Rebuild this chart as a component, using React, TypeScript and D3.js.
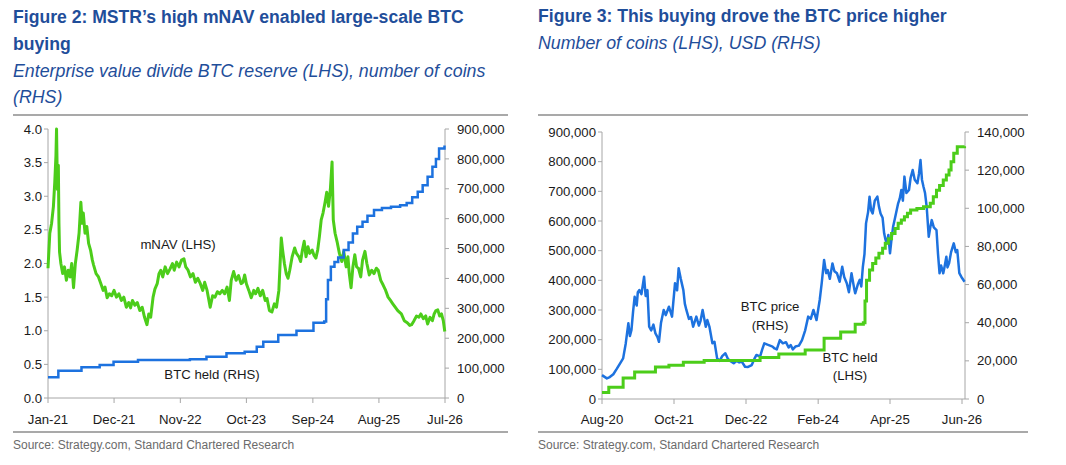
import React from "react";
import * as d3 from "d3";

// ---------- Figure 2 data (months since Jan-2021) ----------
const fig2Start = new Date(2021, 0, 1);
const fig2XTickLabels = ["Jan-21", "Dec-21", "Nov-22", "Oct-23", "Sep-24", "Aug-25", "Jul-26"];
const fig2LeftTicks = [0, 0.5, 1, 1.5, 2, 2.5, 3, 3.5, 4];
const fig2RightTicks = [0, 100000, 200000, 300000, 400000, 500000, 600000, 700000, 800000, 900000];

const mnav: [number, number][] = [
  [0.0, 1.93], [0.3, 2.45], [0.6, 2.6], [0.9, 2.85], [1.1, 3.2], [1.3, 3.6], [1.4, 4.0], [1.55, 3.1],
  [1.7, 3.46], [1.8, 2.6], [1.9, 2.17], [2.2, 2.0], [2.5, 1.85], [2.8, 1.95], [3.1, 1.75], [3.4, 1.9],
  [3.7, 1.8], [4.0, 2.0], [4.3, 1.64], [4.6, 2.0], [4.9, 2.2], [5.2, 2.45], [5.5, 2.91], [5.7, 2.6],
  [5.9, 2.75], [6.2, 2.45], [6.5, 2.55], [6.8, 2.3], [7.1, 2.2], [7.4, 2.05], [7.6, 1.98], [8.0, 1.85],
  [8.4, 1.8], [8.8, 1.7], [9.2, 1.6], [9.5, 1.65], [9.85, 1.49], [10.2, 1.55], [10.6, 1.52], [11.0, 1.6],
  [11.4, 1.5], [11.8, 1.55], [12.2, 1.45], [12.6, 1.5], [13.0, 1.35], [13.4, 1.42], [13.7, 1.34], [14.1, 1.45],
  [14.5, 1.38], [14.9, 1.42], [15.3, 1.3], [15.7, 1.35], [16.1, 1.2], [16.5, 1.09], [16.8, 1.25], [17.1, 1.2],
  [17.5, 1.5], [17.8, 1.62], [18.2, 1.7], [18.5, 1.85], [18.8, 1.9], [19.1, 1.8], [19.5, 1.95], [19.9, 1.85],
  [20.3, 1.92], [20.7, 2.0], [21.0, 1.9], [21.4, 2.02], [21.8, 1.95], [22.2, 2.05], [22.6, 2.07], [22.9, 1.95],
  [23.3, 1.9], [23.7, 1.8], [24.1, 1.85], [24.5, 1.72], [24.9, 1.78], [25.3, 1.7], [25.7, 1.6], [26.1, 1.72],
  [26.5, 1.6], [27.0, 1.35], [27.4, 1.52], [27.8, 1.5], [28.2, 1.58], [28.6, 1.55], [29.0, 1.6], [29.4, 1.55],
  [29.8, 1.65], [30.2, 1.45], [30.5, 1.75], [30.9, 1.88], [31.3, 1.75], [31.7, 1.82], [32.1, 1.7], [32.4, 1.72],
  [32.7, 1.83], [33.0, 1.7], [33.4, 1.6], [33.8, 1.49], [34.2, 1.6], [34.5, 1.55], [34.9, 1.63], [35.3, 1.52],
  [35.7, 1.6], [36.1, 1.45], [36.4, 1.48], [36.8, 1.3], [37.2, 1.28], [37.6, 1.4], [38.0, 1.35], [38.4, 1.6],
  [38.8, 2.38], [39.0, 2.2], [39.3, 2.0], [39.6, 1.85], [39.9, 1.78], [40.2, 1.9], [40.6, 2.1], [41.0, 2.23],
  [41.3, 2.15], [41.7, 2.1], [42.0, 2.03], [42.3, 2.2], [42.6, 2.33], [42.9, 2.1], [43.2, 2.25], [43.5, 2.15],
  [43.9, 2.2], [44.2, 2.12], [44.5, 2.08], [44.8, 2.2], [45.1, 2.4], [45.4, 2.65], [45.7, 2.75], [46.0, 2.9],
  [46.3, 3.06], [46.6, 2.85], [46.9, 3.1], [47.2, 3.51], [47.4, 2.65], [47.7, 2.45], [48.0, 2.33], [48.4, 2.15],
  [48.8, 2.03], [49.1, 2.18], [49.5, 1.95], [49.8, 2.1], [50.1, 1.85], [50.4, 1.64], [50.7, 1.95], [51.0, 2.13],
  [51.3, 1.95], [51.6, 1.93], [52.0, 1.8], [52.3, 2.05], [52.7, 2.18], [53.0, 2.0], [53.4, 1.83], [53.8, 1.9],
  [54.2, 1.85], [54.6, 1.93], [54.9, 1.9], [55.3, 1.75], [55.7, 1.68], [56.1, 1.6], [56.5, 1.5], [56.9, 1.45],
  [57.3, 1.4], [57.7, 1.35], [58.1, 1.3], [58.7, 1.25], [59.2, 1.15], [59.7, 1.12], [60.1, 1.08], [60.4, 1.09],
  [60.8, 1.15], [61.2, 1.22], [61.6, 1.2], [62.0, 1.25], [62.4, 1.18], [62.8, 1.22], [63.1, 1.1], [63.5, 1.2],
  [63.9, 1.15], [64.2, 1.25], [64.5, 1.3], [64.8, 1.31], [65.1, 1.22], [65.4, 1.25], [65.7, 1.15], [65.95, 0.99],
];

const fig2BtcHeld: [number, number][] = [
  [0, 69300], [1.7, 91300], [5.6, 102700], [8.6, 110400], [10.9, 121500], [15.0, 127000], [23.6, 130000],
  [26.4, 138000], [29.7, 149500], [32.7, 155000], [34.7, 171600], [35.8, 188000], [38.3, 210800],
  [41.3, 225000], [44.1, 252000], [45.9, 256000], [46.2, 330000], [46.5, 395000], [47.0, 439000],
  [47.6, 455000], [48.2, 470000], [49.1, 495000], [49.9, 520000], [50.7, 550000], [51.4, 573000],
  [52.3, 590000], [53.1, 610000], [54.2, 629000], [55.5, 636000], [57.0, 640000], [58.5, 645000],
  [59.6, 652000], [60.5, 672000], [61.4, 690000], [62.3, 712000], [63.1, 740000], [63.9, 774000],
  [64.5, 800000], [65.0, 835000], [65.9, 845000],
];

// ---------- Figure 3 data (months since Aug-2020) ----------
const fig3Start = new Date(2020, 7, 1);
const fig3XTickLabels = ["Aug-20", "Oct-21", "Dec-22", "Feb-24", "Apr-25", "Jun-26"];
const fig3LeftTicks = [0, 100000, 200000, 300000, 400000, 500000, 600000, 700000, 800000, 900000];
const fig3RightTicks = [0, 20000, 40000, 60000, 80000, 100000, 120000, 140000];

const fig3BtcHeld: [number, number][] = [
  [0, 21500], [1.3, 40000], [4.1, 70500], [6.3, 91000], [10.4, 108000], [13.0, 114000], [15.8, 124000],
  [19.9, 129500], [30.7, 140000], [34.4, 152000], [39.5, 165000], [43.2, 205000], [46.4, 226000],
  [49.2, 252000], [50.8, 257000], [51.1, 330000], [51.4, 400000], [52.0, 435000], [52.6, 457000],
  [53.2, 475000], [53.8, 491000], [54.5, 508000], [55.1, 525000], [55.7, 540000], [56.3, 558000],
  [57.0, 575000], [57.6, 592000], [58.2, 603000], [58.8, 614000], [59.4, 626000], [60.0, 637000],
  [61.2, 642000], [62.5, 648000], [63.8, 660000], [64.4, 682000], [65.0, 704000], [65.6, 720000],
  [66.3, 738000], [66.9, 755000], [67.5, 772000], [67.9, 800000], [68.4, 828000], [69.1, 850000],
  [70.5, 852000],
];

const btcPrice: [number, number][] = [
  [0, 12500], [0.5, 11600], [0.95, 10800], [1.5, 11500], [2.2, 13000], [2.8, 15500], [3.5, 18700],
  [4.1, 21300], [4.6, 29000], [5.1, 39700], [5.4, 33000], [5.7, 36200], [6.0, 46000], [6.3, 53600],
  [6.7, 49000], [7.0, 56000], [7.3, 57100], [7.7, 55000], [8.2, 64100], [8.5, 54000], [8.85, 57100],
  [9.2, 37900], [9.6, 36000], [10.0, 39000], [10.4, 34400], [10.8, 32500], [11.1, 30000], [11.5, 40000],
  [12.0, 46700], [12.4, 44000], [13.0, 48400], [13.6, 43200], [14.2, 60700], [14.6, 57000], [14.9, 68500],
  [15.3, 63000], [15.8, 57100], [16.1, 50000], [16.4, 46700], [16.9, 42000], [17.3, 43000], [17.7, 37900],
  [18.3, 43200], [18.8, 38500], [19.2, 41000], [19.6, 46700], [20.2, 37900], [20.5, 41400], [20.9, 38000],
  [21.5, 29200], [21.9, 30000], [22.4, 21300], [22.9, 20000], [23.4, 22500], [24.0, 24000], [24.5, 21000],
  [25.0, 19800], [25.6, 18700], [26.2, 20000], [26.7, 19200], [27.2, 19500], [27.8, 16900], [28.4, 16800],
  [29.1, 17800], [29.6, 21000], [30.0, 23100], [30.7, 22200], [31.2, 26000], [31.6, 29200], [32.2, 28500],
  [32.7, 28000], [33.2, 27500], [33.6, 26500], [34.0, 26000], [34.6, 30900], [35.2, 29200], [35.8, 29800],
  [36.3, 27000], [36.7, 28300], [37.1, 26000], [37.6, 27500], [38.3, 28000], [38.9, 30900], [39.5, 36000],
  [40.1, 43200], [40.6, 42000], [41.1, 46700], [41.7, 41400], [42.3, 51900], [42.7, 61000], [43.2, 72900],
  [43.6, 66000], [43.9, 67600], [44.3, 63000], [44.8, 71100], [45.2, 67000], [45.7, 65900], [46.2, 61500],
  [46.7, 69300], [47.1, 64000], [47.6, 60700], [48.0, 56000], [48.5, 65900], [49.0, 58000], [49.2, 55400],
  [49.7, 60000], [50.1, 62500], [50.4, 59000], [50.7, 69300], [51.0, 76000], [51.3, 92100], [51.7, 98000],
  [52.0, 106100], [52.3, 99000], [52.6, 97300], [53.0, 104000], [53.5, 106100], [53.8, 101000],
  [54.1, 97300], [54.5, 95000], [54.8, 86900], [55.1, 84000], [55.4, 81600], [55.7, 86000], [56.0, 76400],
  [56.3, 84000], [56.6, 90300], [57.0, 95000], [57.6, 102600], [57.9, 105000], [58.2, 109600],
  [58.5, 104000], [58.8, 116600], [59.2, 108000], [59.7, 109600], [60.0, 116000], [60.4, 120100],
  [60.8, 115000], [61.3, 113100], [61.6, 118000], [61.9, 125300], [62.2, 115000], [62.5, 111300],
  [62.8, 108000], [63.1, 100800], [63.5, 85100], [63.8, 90000], [64.1, 93800], [64.5, 90000],
  [65.0, 88600], [65.3, 76000], [65.6, 65900], [65.9, 70000], [66.3, 65900], [66.6, 70000], [66.9, 74600],
  [67.2, 69000], [67.5, 71100], [67.9, 77000], [68.4, 81600], [68.8, 77000], [69.1, 78100], [69.5, 66000],
  [69.9, 64000], [70.5, 61500],
];

// ---------- styling ----------
const FONT = "'Liberation Sans', Arial, Helvetica, sans-serif";
const TITLE_BLUE = "#1f4e9a";
const GREEN = "#4ccd1a";
const BLUE = "#1d72df";
const AXIS = "#a6a6a6";
const TEXT = "#1a1a1a";
const TITLE_SIZE = 17.6;
const SUB_SIZE = 17.8;
const TICK_SIZE = 13.2;

function monthToDate(start: Date, m: number): Date {
  const whole = Math.floor(m);
  const frac = m - whole;
  const d = new Date(start.getFullYear(), start.getMonth() + whole, 1);
  return new Date(d.getTime() + frac * 30.44 * 86400000);
}

const parseTick = d3.timeParse("%b-%y");
const fmtComma = d3.format(",");
const fmtOne = d3.format(".1f");

function Figure2() {
  const x = d3.scaleTime().domain([fig2Start, parseTick("Jul-26") as Date]).range([48, 445]);
  const yL = d3.scaleLinear().domain([0, 4]).range([398, 129]);
  const yR = d3.scaleLinear().domain([0, 900000]).range([398, 129]);
  const mnavLine = d3
    .line<[number, number]>()
    .x((d) => x(monthToDate(fig2Start, d[0])))
    .y((d) => yL(d[1]))
    .curve(d3.curveLinear);
  const heldLine = d3
    .line<[number, number]>()
    .x((d) => x(monthToDate(fig2Start, d[0])))
    .y((d) => yR(d[1]))
    .curve(d3.curveStepAfter);
  const [x0, x1] = x.range();
  const [yb, yt] = yL.range();
  return (
    <g fontFamily={FONT}>
      <text x={13} y={23} fontSize={TITLE_SIZE} fontWeight="bold" fill={TITLE_BLUE}>
        Figure 2: MSTR’s high mNAV enabled large-scale BTC
      </text>
      <text x={13} y={50} fontSize={TITLE_SIZE} fontWeight="bold" fill={TITLE_BLUE}>
        buying
      </text>
      <text x={13} y={77} fontSize={SUB_SIZE} fontStyle="italic" fill={TITLE_BLUE}>
        Enterprise value divide BTC reserve (LHS), number of coins
      </text>
      <text x={13} y={103} fontSize={SUB_SIZE} fontStyle="italic" fill={TITLE_BLUE}>
        (RHS)
      </text>
      <line x1={13} x2={508} y1={115} y2={115} stroke="#8c8c8c" strokeWidth={1.5} />

      {/* axes */}
      <line x1={x0} x2={x0} y1={yt} y2={yb} stroke={AXIS} />
      <line x1={x1} x2={x1} y1={yt} y2={yb} stroke={AXIS} />
      <line x1={x0} x2={x1} y1={yb} y2={yb} stroke={AXIS} />
      {fig2LeftTicks.map((t) => (
        <g key={"l" + t}>
          <line x1={x0 - 4} x2={x0} y1={yL(t)} y2={yL(t)} stroke={AXIS} />
          <text x={x0 - 6} y={yL(t)} dy="0.35em" textAnchor="end" fontSize={TICK_SIZE} fill={TEXT}>
            {fmtOne(t)}
          </text>
        </g>
      ))}
      {fig2RightTicks.map((t) => (
        <g key={"r" + t}>
          <line x1={x1} x2={x1 + 4} y1={yR(t)} y2={yR(t)} stroke={AXIS} />
          <text x={x1 + 12} y={yR(t)} dy="0.35em" textAnchor="start" fontSize={TICK_SIZE} fill={TEXT}>
            {fmtComma(t)}
          </text>
        </g>
      ))}
      {fig2XTickLabels.map((lab) => {
        const xp = x(parseTick(lab) as Date);
        return (
          <g key={lab}>
            <line x1={xp} x2={xp} y1={yb} y2={yb + 5} stroke={AXIS} />
            <text x={xp} y={424} textAnchor="middle" fontSize={TICK_SIZE} fill={TEXT}>
              {lab}
            </text>
          </g>
        );
      })}

      <path d={mnavLine(mnav) ?? ""} fill="none" stroke={GREEN} strokeWidth={3} strokeLinejoin="round" />
      <path d={heldLine(fig2BtcHeld) ?? ""} fill="none" stroke={BLUE} strokeWidth={2.5} />

      <text x={178} y={249} textAnchor="middle" fontSize={13.2} fill={TEXT}>
        mNAV (LHS)
      </text>
      <text x={212} y={379} textAnchor="middle" fontSize={13.2} fill={TEXT}>
        BTC held (RHS)
      </text>

      <line x1={13} x2={508} y1={432} y2={432} stroke="#8c8c8c" strokeWidth={1.5} />
      <text x={13} y={449} fontSize={12} fill="#6b6b6b">
        Source: Strategy.com, Standard Chartered Research
      </text>
    </g>
  );
}

function Figure3() {
  const x = d3.scaleTime().domain([fig3Start, parseTick("Jun-26") as Date]).range([602, 962]);
  const yL = d3.scaleLinear().domain([0, 900000]).range([399, 132]);
  const yR = d3.scaleLinear().domain([0, 140000]).range([399, 132]);
  const axisRight = 965;
  const heldLine = d3
    .line<[number, number]>()
    .x((d) => x(monthToDate(fig3Start, d[0])))
    .y((d) => yL(d[1]))
    .curve(d3.curveStepAfter);
  const priceLine = d3
    .line<[number, number]>()
    .x((d) => x(monthToDate(fig3Start, d[0])))
    .y((d) => yR(d[1]))
    .curve(d3.curveLinear);
  const x0 = x.range()[0];
  const [yb, yt] = yL.range();
  return (
    <g fontFamily={FONT}>
      <text x={538} y={22} fontSize={TITLE_SIZE} fontWeight="bold" fill={TITLE_BLUE}>
        Figure 3: This buying drove the BTC price higher
      </text>
      <text x={538} y={49} fontSize={SUB_SIZE} fontStyle="italic" fill={TITLE_BLUE}>
        Number of coins (LHS), USD (RHS)
      </text>
      <line x1={538} x2={1028} y1={115} y2={115} stroke="#8c8c8c" strokeWidth={1.5} />

      <line x1={x0} x2={x0} y1={yt} y2={yb} stroke={AXIS} />
      <line x1={axisRight} x2={axisRight} y1={yt} y2={yb} stroke={AXIS} />
      <line x1={x0} x2={axisRight} y1={yb} y2={yb} stroke={AXIS} />
      {fig3LeftTicks.map((t) => (
        <g key={"l" + t}>
          <line x1={x0 - 4} x2={x0} y1={yL(t)} y2={yL(t)} stroke={AXIS} />
          <text x={x0 - 6} y={yL(t)} dy="0.35em" textAnchor="end" fontSize={TICK_SIZE} fill={TEXT}>
            {fmtComma(t)}
          </text>
        </g>
      ))}
      {fig3RightTicks.map((t) => (
        <g key={"r" + t}>
          <line x1={axisRight} x2={axisRight + 4} y1={yR(t)} y2={yR(t)} stroke={AXIS} />
          <text x={axisRight + 12} y={yR(t)} dy="0.35em" textAnchor="start" fontSize={TICK_SIZE} fill={TEXT}>
            {fmtComma(t)}
          </text>
        </g>
      ))}
      {fig3XTickLabels.map((lab) => {
        const xp = x(parseTick(lab) as Date);
        return (
          <g key={lab}>
            <line x1={xp} x2={xp} y1={yb} y2={yb + 5} stroke={AXIS} />
            <text x={xp} y={424} textAnchor="middle" fontSize={TICK_SIZE} fill={TEXT}>
              {lab}
            </text>
          </g>
        );
      })}

      <path d={priceLine(btcPrice) ?? ""} fill="none" stroke={BLUE} strokeWidth={2.5} strokeLinejoin="round" />
      <path d={heldLine(fig3BtcHeld) ?? ""} fill="none" stroke={GREEN} strokeWidth={3} />

      <text x={770} y={311} textAnchor="middle" fontSize={13.2} fill={TEXT}>
        BTC price
      </text>
      <text x={770} y={330} textAnchor="middle" fontSize={13.2} fill={TEXT}>
        (RHS)
      </text>
      <text x={850} y={362} textAnchor="middle" fontSize={13.2} fill={TEXT}>
        BTC held
      </text>
      <text x={850} y={380} textAnchor="middle" fontSize={13.2} fill={TEXT}>
        (LHS)
      </text>

      <line x1={538} x2={1028} y1={432} y2={432} stroke="#8c8c8c" strokeWidth={1.5} />
      <text x={538} y={449} fontSize={12} fill="#6b6b6b">
        Source: Strategy.com, Standard Chartered Research
      </text>
    </g>
  );
}

export default function App() {
  return (
    <svg
      width={1066}
      height={465}
      viewBox="0 0 1066 465"
      style={{ position: "absolute", left: 0, top: 0, background: "#ffffff" }}
    >
      <rect width={1066} height={465} fill="#ffffff" />
      <Figure2 />
      <Figure3 />
    </svg>
  );
}
